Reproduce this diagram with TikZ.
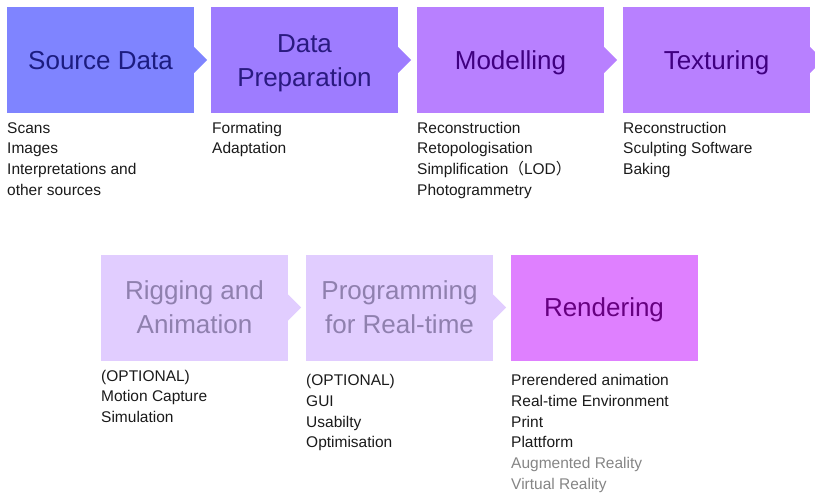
\documentclass[tikz,border=0pt]{standalone}
\usepackage{fontspec}
\setmainfont{Liberation Sans}
\newfontfamily\cjk{Noto Sans CJK SC}
\definecolor{fSrc}{HTML}{7F84FF}
\definecolor{fPrep}{HTML}{9E7CFF}
\definecolor{fMod}{HTML}{B880FF}
\definecolor{fLight}{HTML}{E1CDFF}
\definecolor{fRend}{HTML}{DF80FF}
\definecolor{tSrc}{HTML}{1C1C80}
\definecolor{tPrep}{HTML}{2A1A80}
\definecolor{tMod}{HTML}{3F0080}
\definecolor{tLight}{HTML}{8F80AE}
\definecolor{tRend}{HTML}{660080}
\definecolor{lstC}{HTML}{1A1A1A}
\definecolor{lstGrey}{HTML}{858585}
\begin{document}
\begin{tikzpicture}[x=1pt,y=-1pt,
  stage/.style={minimum width=187pt, minimum height=106pt, inner sep=0pt,
    align=center, font=\fontsize{26}{34}\selectfont, text depth=0pt, text height=18.6pt},
  twoline/.style={text height=52.6pt},
  lst/.style={anchor=north west, align=left, inner sep=0pt,
    font=\fontsize{15.5}{20.7}\selectfont, text=lstC}]
\useasboundingbox (0,0) rectangle (815,495);
\clip (0,0) rectangle (815,495);
% top row
\node[stage, fill=fSrc, text=tSrc]   (src)  at (100.5,60) {Source Data};
\node[stage, twoline, fill=fPrep, text=tPrep] (prep) at (304.5,60) {Data\\Preparation};
\node[stage, fill=fMod, text=tMod]   (mod)  at (510.5,60) {Modelling};
\node[stage, fill=fMod, text=tMod]   (tex)  at (716.5,60) {Texturing};
% bottom row
\node[stage, twoline, fill=fLight, text=tLight] (rig)  at (194.5,307.5) {Rigging and\\Animation};
\node[stage, twoline, fill=fLight, text=tLight] (prog) at (399.5,307.5) {Programming\\for Real-time};
\node[stage, fill=fRend, text=tRend]   (rend) at (604,307.5) {Rendering};
% arrow notches
\foreach \n/\c in {src/fSrc, prep/fPrep, mod/fMod, tex/fMod, rig/fLight, prog/fLight}{
  \fill[\c] ([yshift=13pt]\n.east) -- ([xshift=13pt]\n.east) -- ([yshift=-13pt]\n.east) -- cycle;
}
% lists (node top = first baseline - strut height 14.49)
\node[lst] (lsrc)  at (7,118.5)   {\strut Scans\\Images\\Interpretations and\\other sources};
\node[lst] (lprep) at (212,118.5) {\strut Formating\\Adaptation};
\node[lst] (lmod)  at (417,118.5) {\strut Reconstruction\\Retopologisation\\Simplification{\cjk （}LOD{\cjk ）}\\Photogrammetry};
\node[lst] (ltex)  at (623,118.5) {\strut Reconstruction\\Sculpting Software\\Baking};
\node[lst] (lrig)  at (101,366.5) {\strut (OPTIONAL)\\Motion Capture\\Simulation};
\node[lst] (lprog) at (306,371.1) {\strut (OPTIONAL)\\GUI\\Usabilty\\Optimisation};
\node[lst] (lrend) at (511,371.1) {\strut Prerendered animation\\Real-time Environment\\Print\\Plattform\\\textcolor{lstGrey}{Augmented Reality}\\\textcolor{lstGrey}{Virtual Reality}};
\end{tikzpicture}
\end{document}
